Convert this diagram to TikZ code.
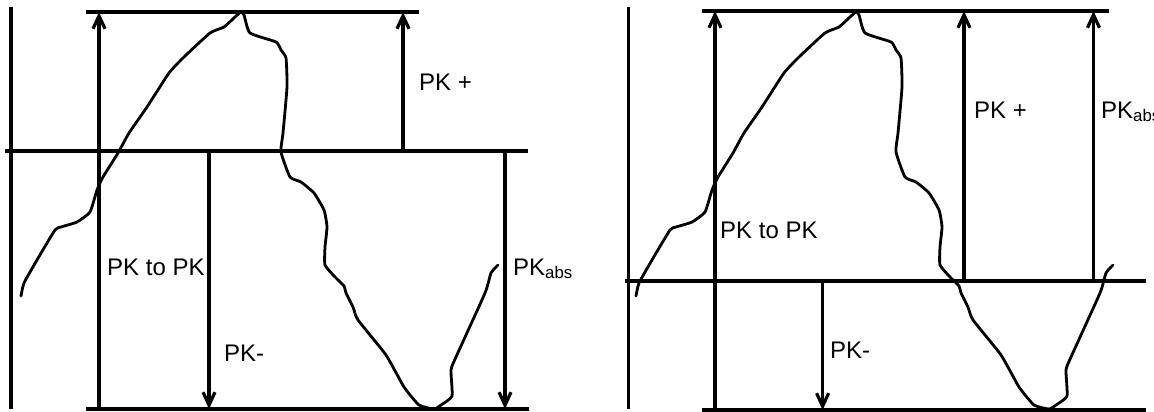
\documentclass[tikz,border=0pt]{standalone}
\usepackage{fontspec}
\setmainfont{Liberation Sans}
\usepackage{tikz}
\usetikzlibrary{arrows.meta}
\tikzset{
  figure/.style={x=1pt,y=-1pt,font=\fontsize{24}{28}\selectfont,>={Straight Barb[length=13pt,width=12pt]}},
  rule/.style={line width=3.2pt},
  meas/.style={->,line width=3.2pt},
  wave/.style={line width=2.8pt,line join=round,line cap=round},
  lbl/.style={anchor=base west,inner sep=0pt},
  signal/.pic={
    \draw[wave] plot[smooth,tension=0.3] coordinates {(21,296) (24,283) (37,260) (55,230)
      (61,227) (77,222) (90,212) (97,190) (103,177) (118,153) (129,133) (147,107)
      (169,73) (184,57) (210,33) (224,27) (235,17) (241,12)
      (244,15) (250,33) (276,42) (281,50) (286,58) (287,87)
      (283,133) (281,152) (290,177) (301,182) (314,193) (324,210)
      (327,227) (325,247) (325,265) (335,277) (344,286) (346,293)
      (353,307) (358,320) (386,355) (404,387) (419,405) (434,409)
      (441,405) (452,396) (451,370) (456,357) (485,293) (491,273)
      (498,265)};
  },
}

\begin{document}
\begin{tikzpicture}[figure]
  \useasboundingbox (0,0) rectangle (1154,412);

  % left: zero line in the middle
  \coordinate (LaxT) at (11,7);
  \coordinate (LaxB) at (11,409);
  \coordinate (LtopW) at (86,12);
  \coordinate (LtopE) at (419,12);
  \coordinate (LmidW) at (5,151);
  \coordinate (LmidE) at (528,151);
  \coordinate (LbotW) at (86,409);
  \coordinate (LbotE) at (529,409);
  \draw[rule] (LaxT) -- (LaxB);
  \draw[rule] (LtopW) -- (LtopE);
  \draw[rule] (LmidW) -- (LmidE);
  \draw[rule] (LbotW) -- (LbotE);

  \pic at (0,0) {signal};

  \coordinate (Lpp) at (99,409);
  \coordinate (Lplus) at (403,151);
  \coordinate (Lminus) at (209,151);
  \coordinate (Labs) at (505,151);
  \draw[meas] (Lpp) -- (Lpp |- LtopW);
  \draw[meas] (Lplus) -- (Lplus |- LtopW);
  \draw[meas] (Lminus) -- (Lminus |- LbotW);
  \draw[meas] (Labs) -- (Labs |- LbotW);

  \node[lbl] (LplusLbl) at (419,90) {PK +};
  \node[lbl] (LppLbl) at (107,275) {PK to PK};
  \node[lbl] (LminusLbl) at (224,361) {PK-};
  \node[lbl] (LabsLbl) at (513,275) {PK\textsubscript{abs}};

  % right: zero line low
  \coordinate (RaxT) at (628.5,7);
  \coordinate (RaxB) at (628.5,409);
  \coordinate (RtopW) at (702,11);
  \coordinate (RtopE) at (1109,11);
  \coordinate (RmidW) at (625,281);
  \coordinate (RmidE) at (1146,281);
  \coordinate (RbotW) at (702,410);
  \coordinate (RbotE) at (1146,410);
  \draw[rule] (RaxT) -- (RaxB);
  \draw[rule] (RtopW) -- (RtopE);
  \draw[rule] (RmidW) -- (RmidE);
  \draw[rule] (RbotW) -- (RbotE);

  \pic at (615,0) {signal};

  \coordinate (Rpp) at (715,410);
  \coordinate (Rplus) at (964,281);
  \coordinate (Rabs) at (1093.5,281);
  \coordinate (Rminus) at (822.6,281);
  \draw[meas] (Rpp) -- (Rpp |- RtopW);
  \draw[meas] (Rplus) -- (Rplus |- RtopW);
  \draw[meas] (Rabs) -- (Rabs |- RtopW);
  \draw[meas] (Rminus) -- (Rminus |- RbotW);

  \node[lbl] (RplusLbl) at (974,118) {PK +};
  \node[lbl] (RabsLbl) at (1101,118) {PK\textsubscript{abs}};
  \node[lbl] (RppLbl) at (720,238) {PK to PK};
  \node[lbl] (RminusLbl) at (830,358) {PK-};
\end{tikzpicture}
\end{document}
